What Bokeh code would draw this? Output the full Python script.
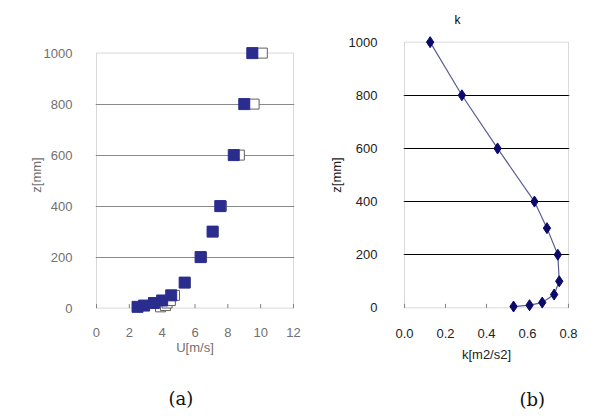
from bokeh.plotting import figure
from bokeh.layouts import row
from bokeh.models import Range1d, FixedTicker, Title, BoxAnnotation, NumeralTickFormatter, LinearAxis
from bokeh.embed import file_html
from bokeh.resources import INLINE

# (a) velocity profile
z_a = [5, 10, 20, 30, 50, 100, 200, 300, 400, 600, 800, 1000]
u_filled = [2.5, 2.9, 3.5, 4.0, 4.55, 5.37, 6.34, 7.07, 7.54, 8.36, 9.0, 9.49]
u_open = [3.9, 4.2, 4.3, 4.5, 4.75, 5.4, 6.4, 7.1, 7.6, 8.7, 9.6, 10.1]

# (b) turbulent kinetic energy profile
z_b = [5, 10, 20, 50, 100, 200, 300, 400, 600, 800, 1000]
k_b = [0.532, 0.61, 0.672, 0.73, 0.755, 0.748, 0.695, 0.634, 0.454, 0.28, 0.125]

xticks_a = [0, 2, 4, 6, 8, 10, 12]
xticks_b = [0.0, 0.2, 0.4, 0.6, 0.8]
zticks = [0, 200, 400, 600, 800, 1000]
Z_MIN, Z_MAX = 0, 1000

SANS = "Liberation Sans"
SERIF = "DejaVu Serif"


def base(bl, br, x0, x1, xpad, zpad_lo, zpad_hi, grid_color, box_color, label_color):
    p = figure(width=305, height=420, output_backend="svg", toolbar_location=None,
               x_range=Range1d(x0 - xpad, x1 + xpad),
               y_range=Range1d(Z_MIN - zpad_lo, Z_MAX + zpad_hi),
               min_border_left=bl, min_border_right=br, min_border_top=35, min_border_bottom=106)
    p.outline_line_color = None
    p.xgrid.grid_line_color = None
    p.ygrid.grid_line_color = grid_color
    p.ygrid.grid_line_width = 1
    p.ygrid.ticker = FixedTicker(ticks=zticks[1:-1])
    p.yaxis.ticker = FixedTicker(ticks=zticks)
    for ax in (p.xaxis[0], p.yaxis[0]):
        ax.axis_line_color = None
        ax.major_tick_line_color = None
        ax.minor_tick_line_color = None
        ax.major_label_text_font = SANS
        ax.major_label_text_font_size = "13px"
        ax.major_label_text_color = label_color
        ax.axis_label_text_font = SANS
        ax.axis_label_text_font_style = "normal"
        ax.axis_label_text_font_size = "13px"
        ax.axis_label_text_color = label_color
    # plot box at the data limits
    p.add_layout(BoxAnnotation(left=x0, right=x1, bottom=Z_MIN, top=Z_MAX,
                               fill_alpha=0, line_color=box_color, line_width=1, level="underlay"))
    return p


def caption(p, text, offset, gap, x0):
    # blank axis used only as vertical spacing before the caption
    spacer = LinearAxis(ticker=FixedTicker(ticks=[x0]), axis_line_color=None,
                        major_tick_line_color="white", major_tick_line_alpha=1,
                        minor_tick_line_color=None,
                        major_tick_in=0, major_tick_out=gap, minor_tick_out=0, minor_tick_in=0,
                        major_label_standoff=0, major_label_text_font_size="0px",
                        major_label_overrides={x0: ""})
    p.add_layout(spacer, "below")
    p.add_layout(Title(text=text, align="left", offset=offset, standoff=0,
                       text_font=SERIF, text_font_size="18px", text_font_style="normal",
                       text_color="#111111"), "below")


# ---- (a)
pa = base(95, 11, xticks_a[0], xticks_a[-1], 0.06, 25, 69, "#8a8a8a", "#808080", "#707070")
pa.xaxis.ticker = FixedTicker(ticks=xticks_a)
pa.segment(x0=xticks_a, y0=[Z_MIN] * len(xticks_a), x1=xticks_a, y1=[Z_MIN + 16] * len(xticks_a),
           line_color="#808080", line_width=1)
pa.xaxis.major_label_standoff = 7
pa.yaxis.major_label_standoff = 17
pa.xaxis.axis_label = "U[m/s]"
pa.xaxis.axis_label_standoff = 0
pa.yaxis.axis_label = "z[mm]"
pa.yaxis.axis_label_standoff = -3
pa.scatter(u_open, z_a, marker="square", size=10, fill_color="white", line_color="#606060", line_width=1)
pa.scatter(u_filled, z_a, marker="square", size=11, fill_color="#2b2d8e", line_color="#2b2d8e")
caption(pa, "(a)", 73, 28, xticks_a[0])

# ---- (b)
pb = base(98, 41, xticks_b[0], xticks_b[-1], 0.005, 25, 25, "#000000", "#808080", "#222222")
pb.xaxis.ticker = FixedTicker(ticks=xticks_b)
pb.xaxis.formatter = NumeralTickFormatter(format="0.0")
pb.segment(x0=xticks_b, y0=[Z_MIN] * len(xticks_b), x1=xticks_b, y1=[Z_MIN + 15] * len(xticks_b),
           line_color="#808080", line_width=1)
pb.xaxis.major_label_standoff = 8
pb.yaxis.major_label_standoff = 20
pb.xaxis.axis_label = "k[m2/s2]"
pb.xaxis.axis_label_standoff = 6
pb.yaxis.axis_label = "z[mm]"
pb.yaxis.axis_label_standoff = 2
pb.line(k_b, z_b, line_color="#5c5c94", line_width=1.2)
pb.scatter(k_b, z_b, marker="diamond", size=11, fill_color="#0a0a6a", line_color="#0a0a6a")
pb.title.text = "k"
pb.title.align = "left"
pb.title.offset = 51
pb.title.standoff = 18
pb.title.text_font = SANS
pb.title.text_font_size = "12px"
pb.title.text_font_style = "normal"
pb.title.text_color = "#000000"
caption(pb, "(b)", 116, 22, xticks_b[0])

layout = row(pa, pb)
open("out.html", "w").write(file_html(layout, INLINE))
